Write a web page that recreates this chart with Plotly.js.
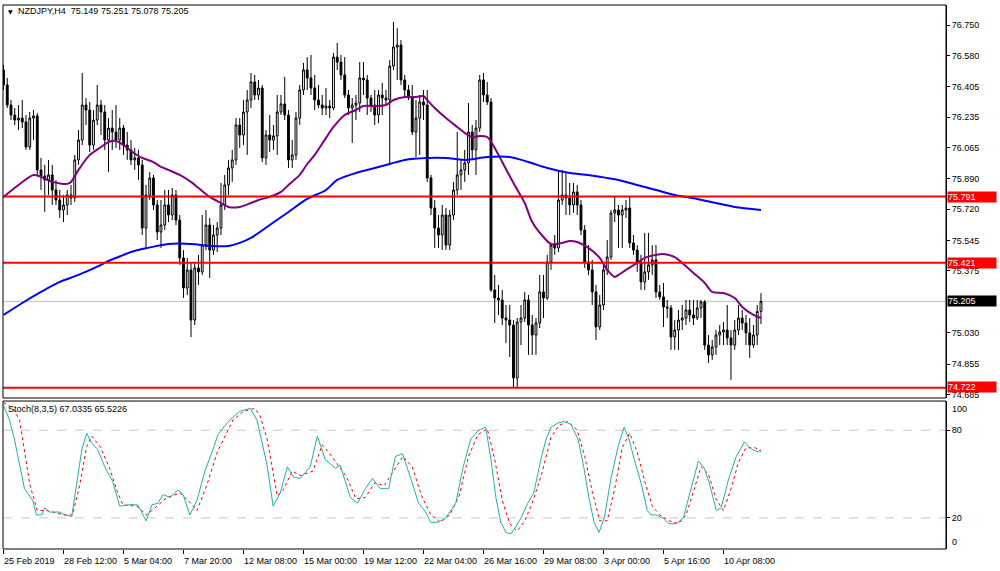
<!DOCTYPE html>
<html><head><meta charset="utf-8">
<script src="https://cdn.plot.ly/plotly-3.0.1.min.js"></script>
<style>html,body{margin:0;padding:0;background:#fff;}#chart{width:1000px;height:571px;}</style>
</head><body><div id="chart"></div>
<script>
const symbolName = 'NZDJPY,H4';
const opens = [76.499,76.415,76.303,76.247,76.219,76.230,76.208,76.068,76.230,76.242,75.940,75.906,75.884,75.912,75.828,75.772,75.716,75.744,75.800,75.783,75.996,76.107,76.303,76.275,76.079,76.219,76.303,76.264,76.107,76.174,76.152,76.107,76.174,76.079,76.052,75.996,76.007,75.968,75.615,75.800,75.895,75.744,75.593,75.632,75.744,75.688,75.800,75.660,75.448,75.280,75.381,75.101,75.392,75.370,75.520,75.632,75.492,75.576,75.615,75.744,75.856,75.951,75.996,76.191,76.135,76.264,76.331,76.432,76.359,76.398,76.007,76.135,76.107,76.130,76.264,76.309,76.247,75.996,76.024,76.230,76.387,76.499,76.454,76.398,76.331,76.303,76.286,76.297,76.286,76.571,76.543,76.471,76.359,76.286,76.303,76.314,76.454,76.443,76.342,76.303,76.247,76.359,76.342,76.331,76.521,76.627,76.638,76.443,76.387,76.342,76.152,76.230,76.320,76.303,75.895,75.727,75.615,75.576,75.688,75.520,75.688,75.828,75.912,75.940,75.979,76.152,76.052,76.174,76.443,76.359,76.320,75.269,75.224,75.213,75.112,75.101,75.073,74.777,75.090,75.112,75.213,75.073,75.017,75.084,75.258,75.224,75.425,75.520,75.504,75.772,75.800,75.783,75.744,75.817,75.744,75.604,75.425,75.381,75.258,75.062,75.185,75.381,75.453,75.699,75.716,75.688,75.716,75.727,75.532,75.492,75.425,75.314,75.370,75.409,75.437,75.258,75.230,75.174,75.168,75.006,75.045,75.101,75.112,75.157,75.129,75.112,75.168,75.202,74.961,74.906,74.950,75.017,75.034,75.045,75.001,74.961,75.045,75.112,75.084,75.029,74.961,75.017,75.149];
const highs = [76.527,76.454,76.331,76.286,76.303,76.331,76.247,76.264,76.275,76.258,76.007,75.968,75.996,75.968,75.884,75.828,75.800,75.828,75.856,76.024,76.163,76.482,76.342,76.320,76.275,76.415,76.331,76.303,76.230,76.275,76.303,76.230,76.191,76.152,76.107,76.063,76.052,75.996,75.856,75.929,75.912,75.772,75.772,75.828,75.828,75.839,75.828,75.688,75.492,75.448,75.425,75.425,75.465,75.688,75.716,75.671,75.632,75.649,75.867,75.912,75.996,76.052,76.230,76.230,76.331,76.387,76.482,76.471,76.443,76.415,76.163,76.247,76.191,76.359,76.359,76.460,76.275,76.107,76.264,76.415,76.538,76.571,76.583,76.471,76.415,76.359,76.398,76.331,76.594,76.650,76.583,76.571,76.387,76.342,76.359,76.543,76.543,76.471,76.359,76.387,76.387,76.426,76.387,76.555,76.767,76.733,76.666,76.471,76.415,76.415,76.331,76.359,76.387,76.387,75.912,75.772,75.688,75.744,75.727,75.716,75.873,76.152,75.996,76.052,76.314,76.191,76.219,76.471,76.482,76.432,76.342,75.353,75.297,75.269,75.185,75.185,75.101,75.112,75.185,75.258,75.241,75.129,75.112,75.353,75.353,75.465,75.532,75.576,75.940,75.940,75.923,75.867,75.867,75.856,75.772,75.632,75.520,75.437,75.297,75.241,75.409,75.548,75.716,75.789,75.744,75.744,75.772,75.789,75.576,75.520,75.465,75.588,75.588,75.520,75.520,75.297,75.308,75.213,75.185,75.101,75.157,75.185,75.213,75.213,75.213,75.213,75.213,75.213,75.017,74.989,75.045,75.073,75.090,75.185,75.045,75.101,75.185,75.157,75.129,75.112,75.073,75.185,75.251];
const lows = [76.387,76.286,76.219,76.191,76.163,76.174,76.052,76.052,76.107,75.912,75.828,75.705,75.800,75.744,75.744,75.671,75.649,75.688,75.744,75.761,75.968,76.079,76.191,76.040,76.052,76.191,76.135,76.052,75.929,76.052,76.063,76.052,76.024,75.996,75.968,75.940,75.884,75.576,75.504,75.772,75.716,75.548,75.504,75.604,75.649,75.660,75.632,75.409,75.224,75.241,75.006,75.073,75.297,75.353,75.492,75.336,75.465,75.481,75.576,75.716,75.800,75.873,75.968,76.063,76.079,76.024,76.286,76.331,76.331,75.984,75.968,76.040,76.052,76.024,76.247,76.219,75.951,75.951,75.996,76.191,76.359,76.387,76.359,76.275,76.286,76.247,76.247,76.230,76.275,76.499,76.443,76.342,76.247,76.091,76.219,76.264,76.359,76.247,76.264,76.191,76.202,76.247,76.303,75.968,76.499,76.443,76.415,76.342,76.331,76.135,76.012,76.024,76.219,75.873,75.688,75.504,75.504,75.492,75.492,75.492,75.660,75.800,75.828,75.873,75.912,75.996,75.912,76.152,76.320,76.303,75.258,75.084,75.129,75.073,74.973,74.894,74.721,74.721,74.961,75.090,74.906,74.906,74.906,75.056,75.112,75.213,75.381,75.465,75.481,75.744,75.688,75.688,75.699,75.688,75.576,75.392,75.353,75.185,74.989,75.045,75.157,75.353,75.437,75.649,75.504,75.504,75.671,75.504,75.465,75.370,75.269,75.269,75.325,75.353,75.224,75.213,75.062,75.112,74.934,74.934,74.934,75.045,75.073,75.090,75.073,75.101,75.112,74.934,74.861,74.878,74.906,74.961,74.961,74.961,74.766,74.934,75.017,75.045,74.961,74.889,74.945,74.961,75.078];
const closes = [76.415,76.303,76.247,76.219,76.230,76.208,76.068,76.230,76.242,75.940,75.906,75.884,75.912,75.828,75.772,75.716,75.744,75.800,75.783,75.996,76.107,76.303,76.275,76.079,76.219,76.303,76.264,76.107,76.174,76.152,76.107,76.174,76.079,76.052,75.996,76.007,75.968,75.615,75.800,75.895,75.744,75.593,75.632,75.744,75.688,75.800,75.660,75.448,75.280,75.381,75.101,75.392,75.370,75.520,75.632,75.492,75.576,75.615,75.744,75.856,75.951,75.996,76.191,76.135,76.264,76.331,76.432,76.359,76.398,76.007,76.135,76.107,76.130,76.264,76.309,76.247,75.996,76.024,76.230,76.387,76.499,76.454,76.398,76.331,76.303,76.286,76.297,76.286,76.571,76.543,76.471,76.359,76.286,76.303,76.314,76.454,76.443,76.342,76.303,76.247,76.359,76.342,76.331,76.521,76.627,76.638,76.443,76.387,76.342,76.152,76.230,76.320,76.303,75.895,75.727,75.615,75.576,75.688,75.520,75.688,75.828,75.912,75.940,75.979,76.152,76.052,76.174,76.443,76.359,76.320,75.269,75.224,75.213,75.112,75.101,75.073,74.777,75.090,75.112,75.213,75.073,75.017,75.084,75.258,75.224,75.425,75.520,75.504,75.772,75.800,75.783,75.744,75.817,75.744,75.604,75.425,75.381,75.258,75.062,75.185,75.381,75.453,75.699,75.716,75.688,75.716,75.727,75.532,75.492,75.425,75.314,75.370,75.409,75.437,75.258,75.230,75.174,75.168,75.006,75.045,75.101,75.112,75.157,75.129,75.112,75.168,75.202,74.961,74.906,74.950,75.017,75.034,75.045,75.001,74.961,75.045,75.112,75.084,75.029,74.961,75.017,75.149,75.205];

const purpleIdx = [0,4,8,10,13,17,18,20,23,26,28,30,32,34,37,40,42,44,47,50,52,55,58,60,63,66,68,71,74,76,79,81,83,86,88,91,94,96,99,102,104,107,110,112,113,115,118,121,123,125,127,129,131,133,136,139,141,144,146,149,151,153,156,159,161,163,164,166,169,171,174,176,179,181,184,187,189,192,195,197,200,202];
const purpleVal = [75.789,75.856,75.912,75.901,75.873,75.862,75.873,75.940,76.024,76.068,76.096,76.102,76.079,76.046,76.007,75.984,75.957,75.940,75.912,75.873,75.839,75.789,75.755,75.733,75.733,75.755,75.772,75.789,75.817,75.856,75.912,75.973,76.024,76.119,76.180,76.247,76.275,76.297,76.297,76.303,76.331,76.348,76.348,76.353,76.331,76.286,76.230,76.180,76.147,76.124,76.130,76.124,76.063,75.984,75.867,75.755,75.649,75.565,75.526,75.532,75.543,75.537,75.504,75.448,75.381,75.342,75.353,75.381,75.420,75.448,75.465,75.470,75.453,75.420,75.364,75.308,75.258,75.252,75.224,75.174,75.129,75.112];
const blueIdx = [0,5,10,15,20,26,28,31,34,38,44,50,55,60,63,66,71,76,81,86,89,94,98,103,107,113,118,123,129,135,140,145,151,156,161,164,169,174,179,185,190,195,202];
const blueVal = [75.129,75.196,75.258,75.314,75.353,75.409,75.431,75.456,75.481,75.502,75.526,75.526,75.515,75.515,75.532,75.560,75.632,75.705,75.778,75.828,75.884,75.923,75.945,75.973,75.996,76.007,76.007,75.996,76.012,76.012,75.984,75.951,75.923,75.912,75.895,75.884,75.856,75.828,75.800,75.778,75.755,75.733,75.716];

const kIdx = [0,1.6,2.9,5.6,7.8,8.8,10.2,11,12.3,15,16.3,18.2,19.5,20.9,22.2,23.5,25.1,27,29.1,31,33.7,35.8,38,39.6,41.2,42.5,44.4,46.5,47.9,49.7,51.6,53.7,55.6,57.2,59,60.4,63,65.8,67.6,70.3,71.9,73.8,75.7,77.3,79.1,81.8,83.7,85.8,88.5,89.8,92.5,94.4,96.5,98.4,100.5,102.7,104.5,106.4,108.6,110.7,112.6,113.9,116,117.9,120.6,122.5,124.6,126.7,128.6,130,131.3,132.6,134,135.3,136.6,138,139.8,141.4,143.3,144.7,146,147.9,149.5,151.3,153.2,154.8,156.1,157.5,158.8,160.2,162,164,165.5,166.8,168.2,170,171.7,172.7,174,175.9,177.5,179.4,181.3,183.4,185.3,186.9,188.2,190.1,191.4,193.3,195.4,197.6,199.5,201.3,202];
const kVal = [97,87,74,40,32,22,22,27,24,24,22,21,43,67,78,71,67,55,45,28,29,29,18,29,30,36,34,39,36,22,32,52,65,77,83,87,93,95,87,56,28,37,55,48,47,55,76,60,54,56,34,30,40,47,40,40,62,64,47,30,24,17,17,20,30,54,74,80,82,60,34,17,10,9,14,20,30,37,60,74,82,85,86,84,74,54,34,17,10,20,47,70,82,74,60,44,25,22,22,20,16,16,20,40,59,54,44,25,27,46,62,72,67,65,67.0335];
const dIdx = [0,2.5,4.3,7,9,11.5,16.3,18.4,20.3,22.2,23.5,25.7,28.3,30.2,31.8,35.6,38.2,40.9,43.6,47.1,49.2,51.6,54.3,57,59.6,61.2,64,67,68.4,70.3,73,74.6,77,79.1,82.5,85,87,89.5,91.5,94,96.5,99,101.5,104,106.5,109,111.5,114,116.5,119,121.5,124,126.5,129,131,133,135,137,139,141,143.5,146,148,150.5,153,155,157,159,161,163,165,167,169,171,173,175,177.5,180,182,184,186,188,190,192,194,196,198,200.5,202];
const dVal = [99,95,87,43,25,25,22,22,42,69,76,69,54,39,29,28,22,28,34,37,32,25,43,65,79,87,93,95,90,74,35,39,52,49,52,70,64,55,48,33,34,44,42,52,62,55,35,22,17,22,35,62,77,81,60,32,16,11,18,30,50,75,83,86,80,62,38,18,18,40,68,78,65,45,28,22,18,16,22,38,55,50,33,25,40,58,68,68,65.5226];
const stochParams = '8,3,5';

const levelPrices = [75.791, 75.421, 74.722];
const lastPrice = 75.205;
const priceTicks = [76.750,76.580,76.405,76.235,76.065,75.890,75.720,75.545,75.375,75.030,74.855,74.685];
const stochTicks = [80, 20];
const timeTickIdx = [0,16,32,48,64,80,96,112,128,144,160,176,192];
const timeTickText = ['25 Feb 2019','28 Feb 12:00','5 Mar 04:00','7 Mar 20:00','12 Mar 08:00','15 Mar 00:00','19 Mar 12:00','22 Mar 04:00','26 Mar 16:00','29 Mar 08:00','3 Apr 00:00','5 Apr 16:00','10 Apr 08:00'];

const idx = opens.map((_, i) => i);
const FONT = 'Liberation Sans, Arial, sans-serif';
const mainDom = [0.2776, 1];
const stochDom = [0, 0.272];

const traces = [
  {type:'candlestick', x: idx, open: opens, high: highs, low: lows, close: closes,
   increasing:{line:{color:'#000', width:1}, fillcolor:'#ffffff'},
   decreasing:{line:{color:'#000', width:1}, fillcolor:'#000000'},
   whiskerwidth:0, hoverinfo:'skip', showlegend:false, xaxis:'x', yaxis:'y'},
  {type:'scatter', mode:'lines', x: purpleIdx, y: purpleVal, line:{color:'#800080', width:2, shape:'spline', smoothing:0.8}, hoverinfo:'skip', showlegend:false, xaxis:'x', yaxis:'y'},
  {type:'scatter', mode:'lines', x: blueIdx, y: blueVal, line:{color:'#0000ff', width:2, shape:'spline', smoothing:0.8}, hoverinfo:'skip', showlegend:false, xaxis:'x', yaxis:'y'},
  {type:'scatter', mode:'lines', x: dIdx, y: dVal, line:{color:'#ff0000', width:1, dash:'dot'}, hoverinfo:'skip', showlegend:false, xaxis:'x', yaxis:'y2'},
  {type:'scatter', mode:'lines', x: kIdx, y: kVal, line:{color:'#20b2aa', width:1}, hoverinfo:'skip', showlegend:false, xaxis:'x', yaxis:'y2'}
];

const shapes = [];
shapes.push({type:'line', xref:'paper', yref:'y', x0:0, x1:1, y0:lastPrice, y1:lastPrice, line:{color:'#c0c0c0', width:1}, layer:'below'});
levelPrices.forEach(p => shapes.push({type:'line', xref:'paper', yref:'y', x0:0, x1:1, y0:p, y1:p, line:{color:'#ff0000', width:2}, layer:'above'}));
stochTicks.forEach(v => shapes.push({type:'line', xref:'paper', yref:'y2', x0:0, x1:1, y0:v, y1:v, line:{color:'#c8c8c8', width:1, dash:'dash'}, layer:'below'}));
shapes.push({type:'rect', xref:'paper', yref:'paper', x0:0, x1:1, y0:mainDom[0], y1:mainDom[1], line:{color:'#000', width:1}, layer:'above'});
shapes.push({type:'rect', xref:'paper', yref:'paper', x0:0, x1:1, y0:stochDom[0], y1:stochDom[1], line:{color:'#000', width:1}, layer:'above'});

const annotations = [];
levelPrices.forEach(p => annotations.push({xref:'paper', yref:'y', x:1, y:p, xanchor:'left', yanchor:'middle', xshift:1, yshift: (p < 74.8 ? 1 : 0), text:p.toFixed(3), showarrow:false, bgcolor:'#ff0000', font:{family:FONT, size:9, color:'#fff'}, width:48, height:10, align:'left', borderpad:0}));
annotations.push({xref:'paper', yref:'y', x:1, y:lastPrice, xanchor:'left', yanchor:'middle', xshift:1, text:lastPrice.toFixed(3), showarrow:false, bgcolor:'#000', font:{family:FONT, size:9, color:'#fff'}, width:48, height:10, align:'left', borderpad:0});
timeTickIdx.forEach((t, k) => annotations.push({xref:'x', yref:'paper', x:t, y:0, xanchor:'left', yanchor:'top', yshift:-5, xshift:-1, text:timeTickText[k], showarrow:false, font:{family:FONT, size:9, color:'#000'}}));
const L = opens.length - 1;
annotations.push({xref:'paper', yref:'paper', x:0, y:1, xanchor:'left', yanchor:'top', xshift:3, yshift:-1, text:'▼', showarrow:false, font:{family:'DejaVu Sans', size:6, color:'#000'}});
annotations.push({xref:'paper', yref:'paper', x:0, y:1, xanchor:'left', yanchor:'top', xshift:13, yshift:1, text: symbolName + '  ' + [opens[L], highs[L], lows[L], closes[L]].map(v => v.toFixed(3)).join(' '), showarrow:false, font:{family:FONT, size:9, color:'#000'}});
annotations.push({xref:'paper', yref:'paper', x:0, y:stochDom[1], xanchor:'left', yanchor:'top', xshift:3, yshift:-1, text:'Stoch(' + stochParams + ') ' + kVal[kVal.length-1].toFixed(4) + ' ' + dVal[dVal.length-1].toFixed(4), showarrow:false, font:{family:FONT, size:9, color:'#000'}});
annotations.push({xref:'paper', yref:'paper', x:1, y:stochDom[1], xanchor:'left', yanchor:'top', xshift:4, yshift:-1, text:'100', showarrow:false, font:{family:FONT, size:9, color:'#000'}});
annotations.push({xref:'paper', yref:'paper', x:1, y:stochDom[0], xanchor:'left', yanchor:'bottom', xshift:4, yshift:0, text:'0', showarrow:false, font:{family:FONT, size:9, color:'#000'}});

const layout = {
  width:1000, height:571,
  margin:{l:3, r:54, t:5, b:22, pad:0},
  paper_bgcolor:'#fff', plot_bgcolor:'#fff',
  font:{family:FONT, size:9, color:'#000'},
  showlegend:false, hovermode:false,
  xaxis:{range:[-0.13, 251.34], anchor:'y2', showgrid:false, zeroline:false, showline:false,
         tickmode:'array', tickvals:timeTickIdx, ticktext:timeTickIdx.map(()=>''), showticklabels:false,
         ticks:'outside', ticklen:4, tickcolor:'#000', tickwidth:1, rangeslider:{visible:false}, fixedrange:true},
  yaxis:{domain:mainDom, range:[74.665, 76.862], side:'right', anchor:'x', showgrid:false, zeroline:false,
         showline:true, linecolor:'#000', linewidth:1, tickmode:'array', tickvals:priceTicks, ticktext:priceTicks.map(v=>v.toFixed(3)),
         ticks:'outside', ticklen:3, tickcolor:'#000', tickfont:{family:FONT, size:9, color:'#000'}, fixedrange:true},
  yaxis2:{domain:stochDom, range:[-1.3, 100], side:'right', anchor:'x', showgrid:false, zeroline:false,
         showline:true, linecolor:'#000', linewidth:1, tickmode:'array', tickvals:stochTicks, ticktext:stochTicks.map(String),
         ticks:'outside', ticklen:3, tickcolor:'#000', tickfont:{family:FONT, size:9, color:'#000'}, fixedrange:true},
  shapes: shapes,
  annotations: annotations
};
Plotly.newPlot('chart', traces, layout, {staticPlot:true, displayModeBar:false});
</script>
</body></html>
